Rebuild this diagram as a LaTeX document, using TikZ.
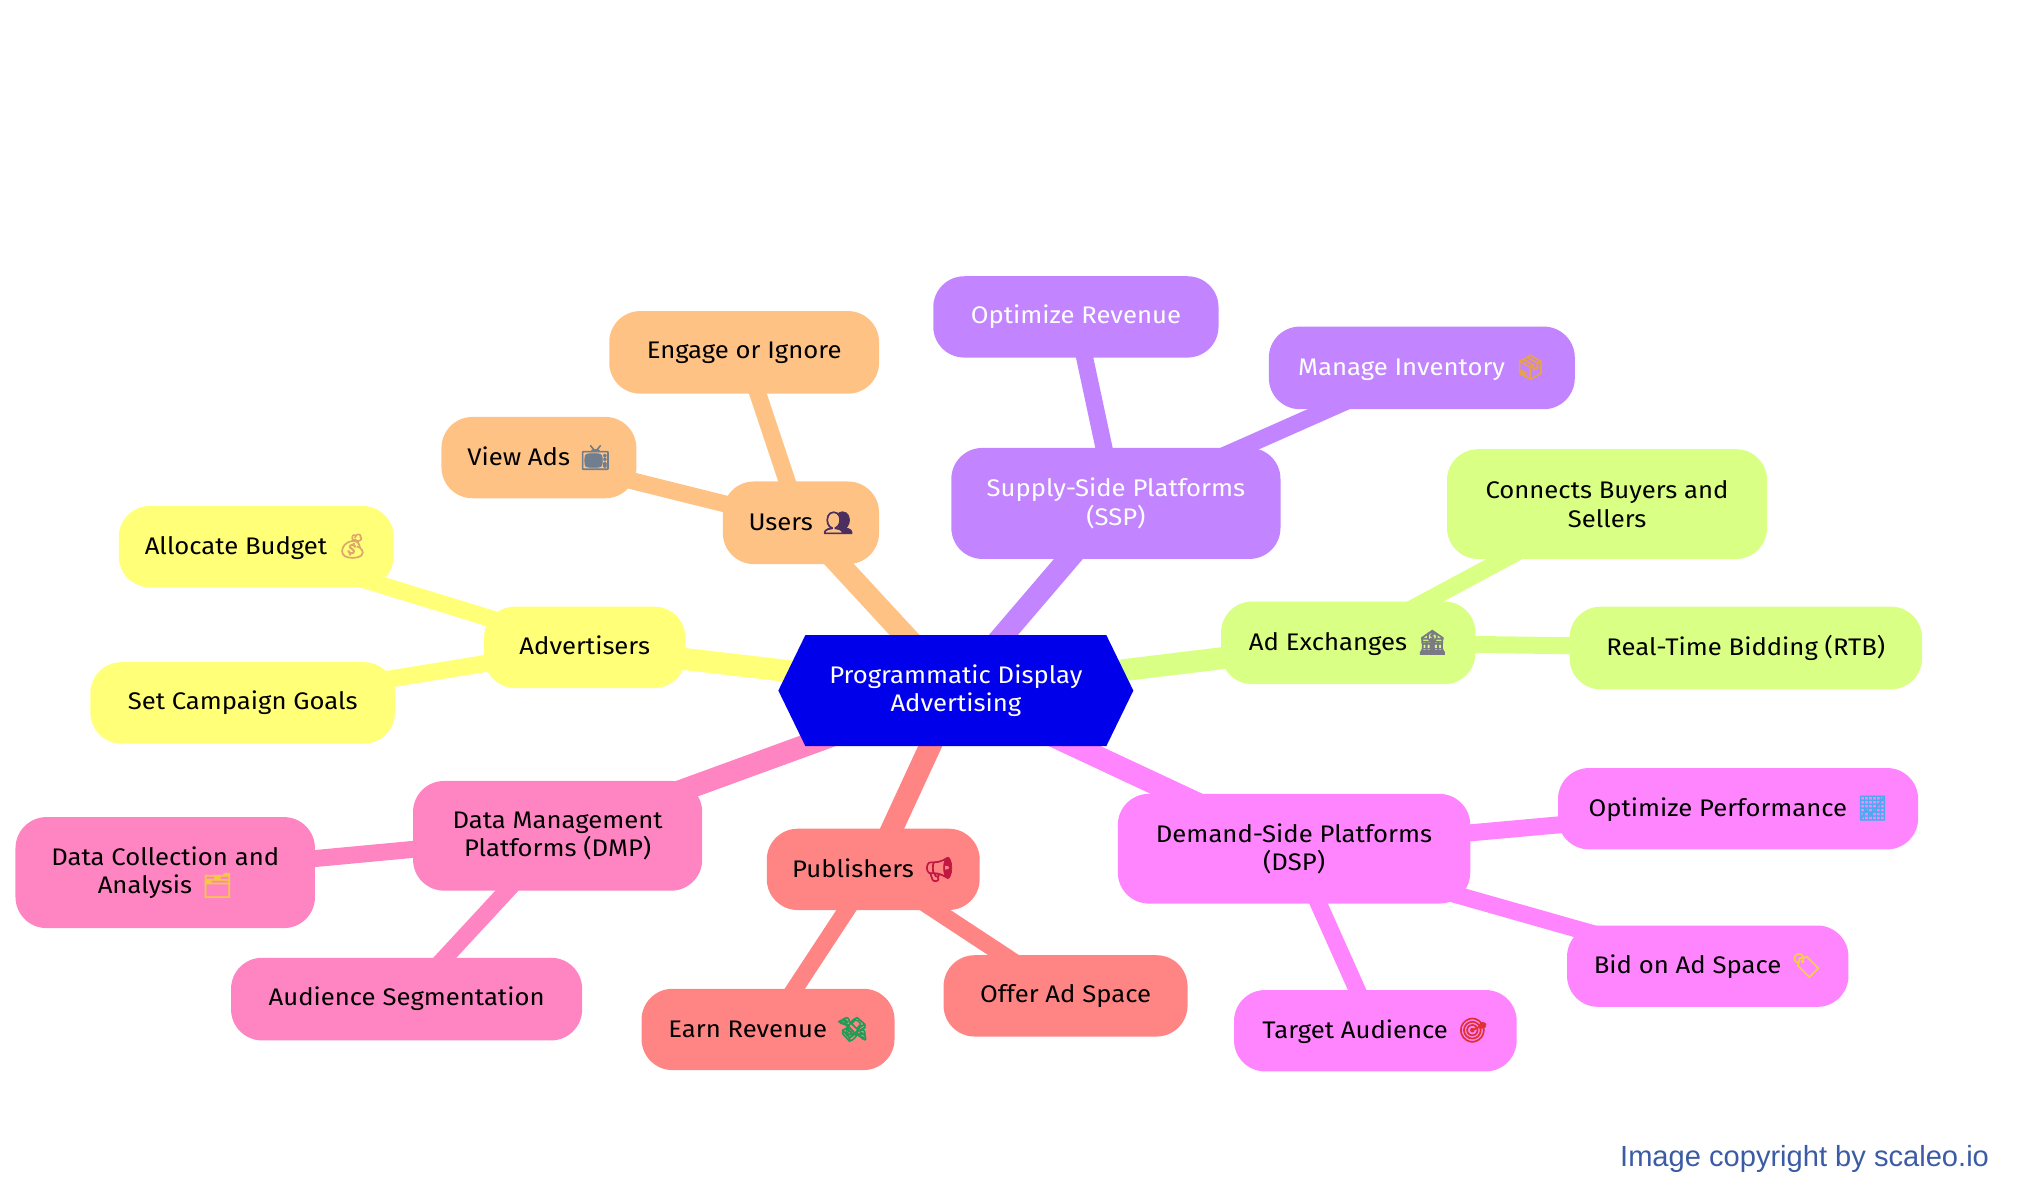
\documentclass[tikz,border=0pt]{standalone}
\usepackage{fontspec}
\setmainfont[FakeStretch=1.07]{Fira Sans}
\newfontfamily\emojifont[FakeBold=3]{Noto Emoji}
\newfontfamily\noticefont{Liberation Sans}
\usetikzlibrary{backgrounds}
\definecolor{cYellow}{HTML}{FFFF78}
\definecolor{cOrange}{HTML}{FFC285}
\definecolor{cPurple}{HTML}{C285FF}
\definecolor{cGreen}{HTML}{D9FF85}
\definecolor{cMagenta}{HTML}{FF85FF}
\definecolor{cRed}{HTML}{FF8585}
\definecolor{cPink}{HTML}{FF85C2}
\definecolor{cRoot}{HTML}{0000EB}
\definecolor{cNotice}{HTML}{3B5BA5}
\newcommand{\emo}[2]{\hspace{10pt}{\color[HTML]{#1}\emojifont #2}}
\newcommand{\lw}[1]{\raisebox{-1.3pt}{#1}}
\newcommand{\mnode}[7]{%
  \pgfmathsetmacro\nw{(#4-#2)*1.2908}%
  \pgfmathsetmacro\nh{(#5-#3)*1.2908}%
  \node[#6,minimum width=\nw pt,minimum height=\nh pt] (#1) at ({(#2+#4)/2},{(#3+#5)/2}) {#7};}
\tikzset{
  mm/.style={rounded corners=31pt,inner sep=0pt,outer sep=0pt,align=center,text=black,
    font=\fontsize{24}{28.4}\selectfont},
  yel/.style={mm,fill=cYellow}, ora/.style={mm,fill=cOrange},
  pur/.style={mm,fill=cPurple,text=white}, gre/.style={mm,fill=cGreen},
  mag/.style={mm,fill=cMagenta}, red/.style={mm,fill=cRed}, pin/.style={mm,fill=cPink},
  rootnode/.style={text=white,inner sep=0pt,outer sep=0pt,align=center,
    font=\fontsize{24}{28.4}\selectfont},
  trunk/.style={line width=22pt},
  twig/.style={line width=17pt},
  notice/.style={font=\noticefont\fontsize{29.1}{32}\selectfont,text=cNotice,inner sep=0pt}
}
\begin{document}
\begin{tikzpicture}[x=1.2908pt,y=-1.2908pt]
\useasboundingbox (0,0) rectangle (1568,923);
\mnode{root}{603}{492}{878}{578}{rootnode}{Programmatic Display\\Advertising}
\mnode{adv}{375}{470}{531}{533}{yel}{\vphantom{g}Advertisers}
\mnode{alloc}{92}{392}{305}{455}{yel}{Allocate Budget\emo{DFA66B}{💰}}
\mnode{goals}{70}{513}{306}{576}{yel}{Set Campaign Goals}
\mnode{users}{560}{373}{681}{437}{ora}{Users\emo{4B2F5F}{👥}}
\mnode{view}{342}{323}{493}{386}{ora}{View Ads\emo{6F7F8F}{📺}}
\mnode{engage}{472}{241}{681}{305}{ora}{\lw{Engage or Ignore}}
\mnode{ssp}{737}{347}{992}{433}{pur}{Supply-Side Platforms\\(SSP)}
\mnode{optrev}{723}{214}{944}{277}{pur}{\lw{Optimize Revenue}}
\mnode{inv}{983}{253}{1220}{317}{pur}{Manage Inventory\emo{E8A24A}{📦}}
\mnode{exch}{946}{466}{1143}{530}{gre}{Ad Exchanges\emo{7A7A85}{🏦}}
\mnode{conn}{1121}{348}{1369}{433}{gre}{Connects Buyers and\\Sellers}
\mnode{rtb}{1216}{470}{1489}{534}{gre}{\lw{Real-Time Bidding (RTB)}}
\mnode{dsp}{866}{615}{1139}{700}{mag}{Demand-Side Platforms\\(DSP)}
\mnode{perf}{1207}{595}{1486}{658}{mag}{Optimize Performance\emo{4FA8F0}{📈}}
\mnode{bid}{1214}{717}{1432}{780}{mag}{Bid on Ad Space\emo{F5D040}{🏷}}
\mnode{target}{956}{767}{1175}{830}{mag}{Target Audience\emo{E03030}{🎯}}
\mnode{pub}{594}{642}{759}{705}{red}{Publishers\emo{C01840}{📢}}
\mnode{earn}{497}{766}{693}{829}{red}{Earn Revenue\emo{1F9D57}{💸}}
\mnode{offer}{731}{740}{920}{803}{red}{\lw{Offer Ad Space}}
\mnode{dmp}{320}{605}{544}{690}{pin}{Data Management\\Platforms (DMP)}
\mnode{coll}{12}{633}{244}{719}{pin}{Data Collection and\\Analysis\emo{F5C842}{🗂}}
\mnode{aud}{179}{742}{451}{806}{pin}{\lw{Audience Segmentation}}
\node[notice,anchor=east] (copy) at (1541,898) {Image copyright by scaleo.io};
\begin{pgfonlayer}{background}
  \draw[trunk,cYellow] (root.center) -- (adv.center);
  \draw[trunk,cOrange] (root.center) -- (users.center);
  \draw[trunk,cPurple] (root.center) -- (ssp.center);
  \draw[trunk,cGreen] (root.center) -- (exch.center);
  \draw[trunk,cMagenta] (root.center) -- (dsp.center);
  \draw[trunk,cRed] (root.center) -- (pub.center);
  \draw[trunk,cPink] (root.center) -- (dmp.center);
  \draw[twig,cYellow] (adv.center) -- (alloc.center);
  \draw[twig,cYellow] (adv.center) -- (goals.center);
  \draw[twig,cOrange] (users.center) -- (view.center);
  \draw[twig,cOrange] (users.center) -- (engage.center);
  \draw[twig,cPurple] (ssp.center) -- (optrev.center);
  \draw[twig,cPurple] (ssp.center) -- (inv.center);
  \draw[twig,cGreen] (exch.center) -- (conn.center);
  \draw[twig,cGreen] (exch.center) -- (rtb.center);
  \draw[twig,cMagenta] (dsp.center) -- (perf.center);
  \draw[twig,cMagenta] (dsp.center) -- (bid.center);
  \draw[twig,cMagenta] (dsp.center) -- (target.center);
  \draw[twig,cRed] (pub.center) -- (earn.center);
  \draw[twig,cRed] (pub.center) -- (offer.center);
  \draw[twig,cPink] (dmp.center) -- (coll.center);
  \draw[twig,cPink] (dmp.center) -- (aud.center);
  \fill[cRoot] (root.west) -- ([xshift=27pt]root.north west) -- ([xshift=-27pt]root.north east)
    -- (root.east) -- ([xshift=-27pt]root.south east) -- ([xshift=27pt]root.south west) -- cycle;
\end{pgfonlayer}
\end{tikzpicture}
\end{document}
